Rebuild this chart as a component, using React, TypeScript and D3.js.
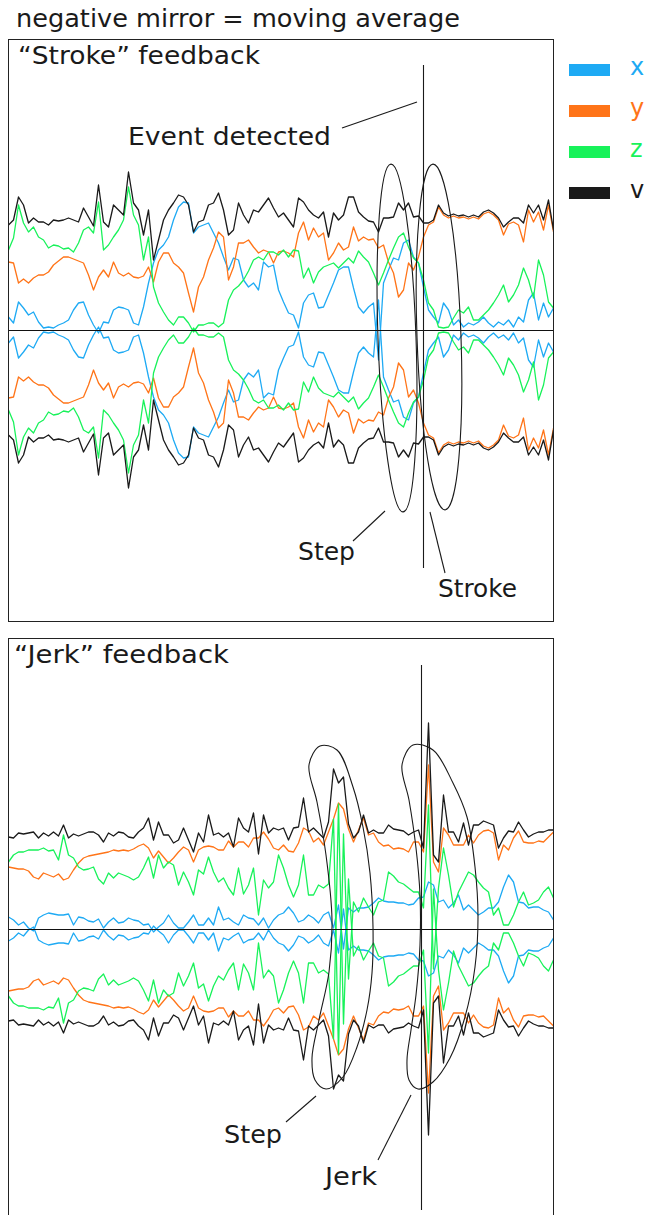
import React from "react";
import * as d3 from "d3";

// ---------- DATA (offset of the positive trace; mirror drawn as negative) ----------
const SAMPLES = 110;
const SERIES_NAMES = ["x", "y", "z", "v"];

// "Stroke" feedback panel
const strokeX = [
  13, 7, 28, 22, 15, 18, 8, 2, 3, 2,
  5, 7, 10, 20, 27, 28, 15, 5, -3, 8,
  7, 20, 23, 22, 20, 7, 5, 23, 47, 67,
  80, 85, 93, 110, 123, 128, 127, 97, 103, 105,
  107, 97, 87, 73, 60, 72, 70, 50, 43, 47,
  40, 68, 63, 65, 40, 28, 17, 15, 2, 27,
  35, 37, 22, 23, 35, 47, 60, 63, 63, 42,
  23, 17, 23, 27, -30, 47, 60, 72, 70, 87,
  90, 73, 67, 43, 20, 13, 7, 27, 20, 5,
  10, 3, 7, 5, 8, 13, 7, 3, 8, 5,
  10, 3, 13, 8, 30, 37, 10, 27, 13, 22,
];
const strokeY = [
  68, 67, 47, 51, 47, 52, 55, 55, 58, 65,
  69, 73, 73, 71, 69, 67, 55, 40, 53, 60,
  53, 68, 57, 54, 57, 53, 52, 54, 63, 48,
  68, 77, 77, 67, 63, 57, 37, 18, 43, 53,
  70, 82, 98, 93, 50, 63, 87, 87, 90, 83,
  77, 80, 78, 67, 78, 79, 77, 73, 97, 108,
  90, 102, 93, 97, 70, 77, 87, 80, 83, 103,
  89, 93, 90, 91, 82, 85, 68, 57, 33, 40,
  67, 60, 73, 93, 105, 108, 123, 115, 112, 114,
  112, 113, 111, 113, 111, 116, 118, 115, 110, 95,
  106, 108, 105, 88, 120, 108, 118, 100, 125, 98,
];
const strokeZ = [
  80, 92, 125, 107, 98, 103, 93, 90, 82, 85,
  84, 81, 82, 78, 87, 100, 103, 97, 128, 80,
  85, 93, 100, 110, 143, 115, 105, 70, 93, 43,
  27, 18, 10, 5, 13, 13, 7, -2, 5, 5,
  7, 7, 3, 7, 30, 40, 44, 50, 59, 70,
  73, 70, 78, 78, 75, 80, 73, 80, 79, 52,
  62, 47, 58, 63, 65, 67, 62, 67, 72, 67,
  79, 73, 68, 57, 45, 57, 70, 82, 93, 97,
  83, 72, 67, 50, 27, 20, 3, 2, 3, 12,
  20, 17, 23, 10, 10, 15, 20, 27, 35, 45,
  28, 35, 45, 62, 50, 32, 70, 55, 28, 22,
];
const strokeV = [
  105, 110, 133, 125, 107, 112, 108, 108, 105, 110,
  109, 110, 112, 110, 108, 122, 113, 104, 145, 108,
  103, 125, 120, 115, 158, 127, 120, 95, 120, 70,
  90, 110, 120, 127, 135, 133, 125, 98, 108, 110,
  125, 127, 137, 120, 95, 100, 127, 115, 107, 120,
  118, 125, 132, 122, 113, 117, 110, 103, 132, 128,
  120, 115, 112, 118, 93, 117, 110, 115, 133, 133,
  118, 113, 109, 108, 98, 112, 112, 113, 127, 120,
  127, 113, 114, 107, 107, 110, 125, 117, 114, 116,
  114, 115, 113, 115, 113, 118, 120, 117, 112, 103,
  108, 112, 112, 107, 125, 117, 125, 110, 130, 100,
];

// "Jerk" feedback panel
const jerkX = [
  12, 9, 4, 7, 1, -2, 11, 14, 16, 15,
  14, 14, 15, 4, 12, 11, 8, 7, 10, 1,
  7, 11, 6, 7, 11, 9, 8, 4, 5, -3,
  2, 6, 14, 6, 1, 1, 7, 14, 4, 4,
  11, 4, 22, 9, 11, 7, 4, 14, 11, 10,
  4, 11, 1, 9, 14, 16, 22, 16, 7, 9,
  14, 11, 6, 14, 17, 1, 24, -20, 21, 17,
  21, 21, 22, 26, 31, 28, 27, 27, 26, 26,
  24, 25, 31, 32, 47, 44, 27, 29, 21, 26,
  34, 19, 24, 19, 14, 17, 21, 21, 27, 42,
  54, 47, 27, 26, 21, 22, 22, 19, 17, 9,
];
const jerkY = [
  62, 61, 60, 60, 58, 52, 50, 56, 54, 52,
  55, 49, 51, 59, 66, 71, 73, 74, 75, 76,
  77, 79, 78, 79, 78, 80, 83, 85, 81, 71,
  78, 72, 66, 71, 77, 82, 79, 67, 79, 82,
  83, 82, 79, 79, 88, 82, 87, 87, 82, 91,
  91, 97, 90, 81, 79, 84, 78, 77, 86, 101,
  98, 87, 91, 84, 97, 110, 126, 120, 100, 87,
  99, 111, 94, 96, 87, 83, 84, 80, 81, 80,
  77, 87, 87, 77, 164, 67, 57, 101, 94, 84,
  84, 84, 94, 86, 94, 98, 99, 96, 69, 84,
  79, 91, 98, 87, 86, 86, 88, 87, 92, 97,
];
const jerkZ = [
  67, 74, 77, 77, 79, 79, 79, 81, 78, 79,
  69, 94, 74, 71, 62, 59, 60, 62, 50, 45,
  56, 51, 56, 54, 52, 49, 52, 61, 72, 51,
  74, 61, 67, 64, 44, 57, 47, 34, 59, 55,
  72, 57, 47, 51, 41, 34, 61, 35, 44, 61,
  14, 49, 41, 47, 74, 61, 44, 32, 44, 74,
  34, 34, 44, 41, 45, 110, -125, 95, -50, 27,
  17, 31, 22, 14, 27, 29, 57, 53, 47, 45,
  41, 37, 37, 21, 124, -40, 41, 81, 54, 22,
  37, 47, 57, 54, 47, 41, 37, 14, 21, 4,
  4, 14, 27, 37, 24, 26, 29, 37, 42, 31,
];
const jerkV = [
  92, 91, 96, 95, 96, 97, 91, 96, 93, 97,
  93, 104, 91, 95, 93, 95, 97, 97, 94, 87,
  96, 93, 97, 96, 92, 91, 97, 101, 111, 89,
  107, 94, 94, 86, 89, 101, 89, 77, 96, 87,
  114, 94, 96, 92, 96, 82, 111, 101, 97, 116,
  75, 114, 96, 101, 99, 101, 89, 101, 102, 131,
  97, 101, 96, 91, 107, 160, 146, 152, 105, 91,
  97, 114, 96, 99, 96, 96, 104, 100, 99, 98,
  94, 97, 99, 81, 206, 74, 67, 134, 97, 97,
  87, 106, 84, 104, 104, 108, 106, 104, 81, 91,
  98, 97, 107, 99, 92, 95, 97, 97, 99, 99,
];

const COLORS: Record<string, string> = {
  x: "#1eaaf4",
  y: "#ff7418",
  z: "#18f25a",
  v: "#1a1a1a",
};

const FONT = "'DejaVu Sans', sans-serif";

// ---------- LAYOUT ----------
const W = 645;
const H = 1215;
const LEFT = 8.5;
const RIGHT = 553.5;

const xScale = d3.scaleLinear().domain([0, SAMPLES - 1]).range([LEFT, RIGHT]);

type PanelProps = {
  id: string;
  top: number;
  bottom: number;
  center: number;
  series: number[][];
};

function Panel({ id, top, bottom, center, series }: PanelProps) {
  const y = d3.scaleLinear().domain([-300, 300]).range([center + 300, center - 300]);
  const line = d3
    .line<number>()
    .x((_, i) => xScale(i))
    .y((d) => y(d));
  return (
    <g>
      <defs>
        <clipPath id={id}>
          <rect x={LEFT} y={top} width={RIGHT - LEFT} height={bottom - top} />
        </clipPath>
      </defs>
      <g clipPath={`url(#${id})`}>
        {series.map((vals, si) => (
          <g key={si} fill="none" stroke={COLORS[SERIES_NAMES[si]]} strokeWidth={1.3} strokeLinejoin="round">
            <path d={line(vals) || ""} />
            <path d={line(vals.map((v) => -v)) || ""} />
          </g>
        ))}
        <line x1={LEFT} x2={RIGHT} y1={y(0) + 0.5} y2={y(0) + 0.5} stroke="#111" strokeWidth={1} />
      </g>
      <rect x={LEFT} y={top} width={RIGHT - LEFT} height={bottom - top} fill="none" stroke="#222" strokeWidth={1} />
    </g>
  );
}

function Label({ x, y, text, w, color = "#1a1a1a", size = 24 }: any) {
  return (
    <text
      x={x}
      y={y}
      fontFamily={FONT}
      fontSize={size}
      fill={color}
      textLength={w}
      lengthAdjust="spacingAndGlyphs"
    >
      {text}
    </text>
  );
}

const smooth = d3.line<[number, number]>().curve(d3.curveCatmullRomClosed.alpha(0.5));

const stepShape: [number, number][] = [
  [320, 746], [337, 750], [353, 787], [363, 827], [370, 873], [373, 927], [372, 973],
  [367, 1010], [357, 1047], [343, 1077], [326, 1089], [315, 1080], [312, 1058],
  [319, 1020], [329, 972], [332, 920], [326, 855], [317, 802], [309, 765],
];
const jerkShape: [number, number][] = [
  [413, 745], [433, 750], [453, 783], [467, 817], [475, 867], [478, 917], [475, 967],
  [465, 1017], [450, 1058], [433, 1082], [418, 1089], [409, 1080], [407, 1060],
  [411, 1030], [416, 995], [420, 945], [420, 895], [416, 848], [409, 800], [402, 765],
];

export default function App() {
  const strokeSeries = [strokeX, strokeY, strokeZ, strokeV];
  const jerkSeries = [jerkX, jerkY, jerkZ, jerkV];
  const legendY = [64, 105, 146, 187];
  return (
    <svg
      width={W}
      height={H}
      viewBox={`0 0 ${W} ${H}`}
      style={{ position: "absolute", left: 0, top: 0, background: "#fff" }}
    >
      <rect width={W} height={H} fill="#fff" />
      <Label x={16} y={27} text="negative mirror = moving average" w={444} />

      {/* Stroke panel */}
      <Panel id="clipStroke" top={39.5} bottom={621.5} center={330} series={strokeSeries} />
      <Label x={18} y={64} text="“Stroke” feedback" w={242} />
      <g fill="none" stroke="#1a1a1a" strokeWidth={1.1}>
        <line x1={423.5} x2={423.5} y1={65} y2={568} />
        <line x1={342} y1={128} x2={417} y2={102} />
        <ellipse cx={397} cy={338} rx={19} ry={174} transform="rotate(-2 397 338)" />
        <ellipse cx={439} cy={337} rx={22} ry={173} transform="rotate(-2 439 337)" />
        <line x1={353} y1={541} x2={385} y2={511} />
        <line x1={445} y1={573} x2={430} y2={512} />
      </g>
      <Label x={128} y={145} text="Event detected" w={203} />
      <Label x={298} y={560} text="Step" w={57} />
      <Label x={438} y={597} text="Stroke" w={79} />

      {/* Jerk panel */}
      <Panel id="clipJerk" top={638.5} bottom={1216} center={929} series={jerkSeries} />
      <Label x={14} y={663} text="“Jerk” feedback" w={215} />
      <g fill="none" stroke="#1a1a1a" strokeWidth={1.1}>
        <line x1={421.5} x2={421.5} y1={665} y2={1210} />
        <path d={smooth(stepShape) || ""} />
        <path d={smooth(jerkShape) || ""} />
        <line x1={286} y1={1122} x2={316} y2={1096} />
        <line x1={378} y1={1160} x2={411} y2={1095} />
      </g>
      <Label x={224} y={1143} text="Step" w={58} />
      <Label x={325} y={1185} text="Jerk" w={52} />

      {/* Legend */}
      {SERIES_NAMES.map((name, i) => (
        <g key={name}>
          <rect x={569} y={legendY[i]} width={41} height={12} fill={COLORS[name]} />
          <text x={630} y={legendY[i] + 11} fontFamily={FONT} fontSize={24} fill={COLORS[name]}>
            {name}
          </text>
        </g>
      ))}
    </svg>
  );
}
